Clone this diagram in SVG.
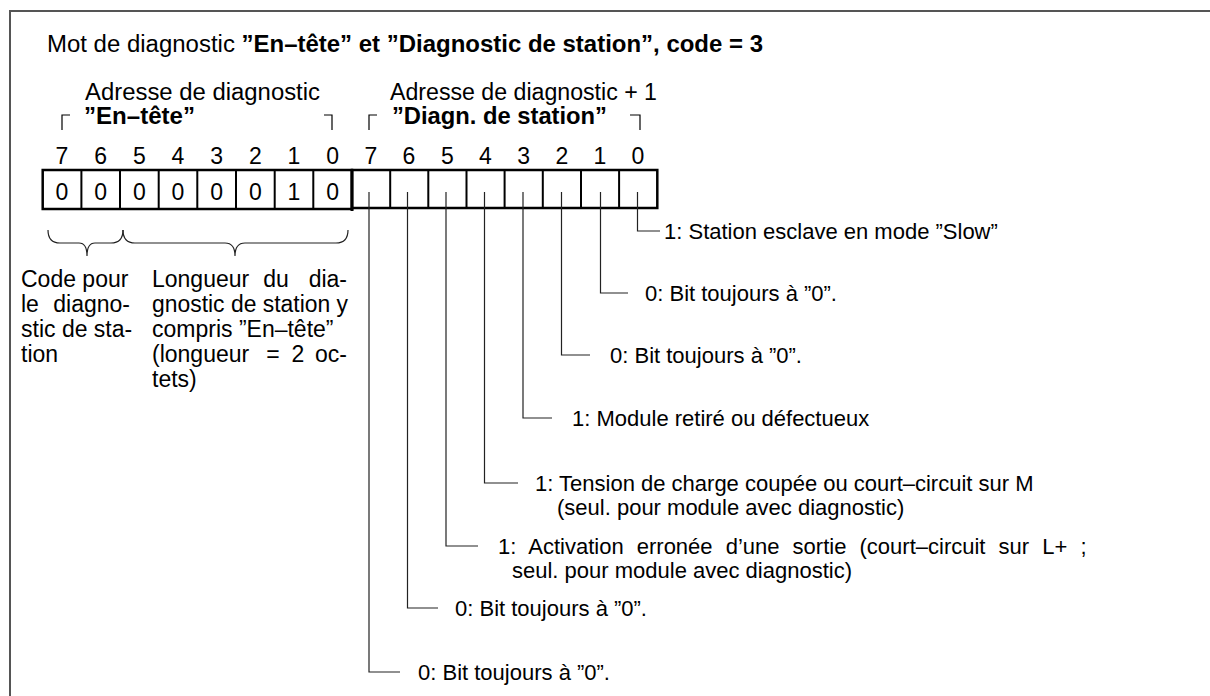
<svg xmlns="http://www.w3.org/2000/svg" width="1210" height="696" viewBox="0 0 1210 696">
<style>
text{font-family:"Liberation Sans",Arial,sans-serif;font-size:23px;fill:#000}
.b{font-weight:bold}
.m{text-anchor:middle}
.e{text-anchor:end}
.s{font-size:22px}
.frame{stroke:#555;stroke-width:2;fill:none}
.cell{stroke:#000;stroke-width:2.5;fill:#fff}
.div{stroke:#000;stroke-width:2}
.lead{stroke:#222;stroke-width:1.2;fill:none}
.brk{stroke:#000;stroke-width:1.2;fill:none}
</style>
<rect width="1210" height="696" fill="#fff"/>
<path class="frame" d="M10,696 V11 H1210"/>
<g id="title"><text x="47" y="52" textLength="716" lengthAdjust="spacingAndGlyphs">Mot de diagnostic <tspan class="b">”En–tête” et ”Diagnostic de station”, code = 3</tspan></text></g>
<g id="header1">
<text x="85" y="100" textLength="235" lengthAdjust="spacingAndGlyphs">Adresse de diagnostic</text>
<text x="84" y="124" class="b" textLength="111" lengthAdjust="spacingAndGlyphs">”En–tête”</text>
<path class="brk" d="M70,115 H62 V130 M324,115 H332 V130"/>
</g>
<g id="header2">
<text x="390" y="100" textLength="267" lengthAdjust="spacingAndGlyphs">Adresse de diagnostic + 1</text>
<text x="392" y="124" class="b" textLength="215" lengthAdjust="spacingAndGlyphs">”Diagn. de station”</text>
<path class="brk" d="M377,115 H369 V130 M630,115 H640 V130"/>
</g>
<g id="byte1">
<text class="m" x="62" y="164">7</text><text class="m" x="100.7" y="164">6</text><text class="m" x="139.3" y="164">5</text><text class="m" x="178" y="164">4</text><text class="m" x="216.7" y="164">3</text><text class="m" x="255.3" y="164">2</text><text class="m" x="294" y="164">1</text><text class="m" x="332.7" y="164">0</text>
<rect class="cell" x="42.7" y="170" width="309.3" height="39"/>
<path class="div" d="M81.4,170V209M120,170V209M158.7,170V209M197.3,170V209M236,170V209M274.7,170V209M313.3,170V209"/>
<text class="m" x="62" y="200">0</text><text class="m" x="100.7" y="200">0</text><text class="m" x="139.3" y="200">0</text><text class="m" x="178" y="200">0</text><text class="m" x="216.7" y="200">0</text><text class="m" x="255.3" y="200">0</text><text class="m" x="294" y="200">1</text><text class="m" x="332.7" y="200">0</text>
</g>
<g id="byte2">
<text class="m" x="371" y="164">7</text><text class="m" x="409" y="164">6</text><text class="m" x="447.5" y="164">5</text><text class="m" x="485.5" y="164">4</text><text class="m" x="523.7" y="164">3</text><text class="m" x="562" y="164">2</text><text class="m" x="600" y="164">1</text><text class="m" x="638" y="164">0</text>
<rect class="cell" x="352" y="170" width="305.3" height="38"/>
<path class="div" d="M390.2,170V208M428.3,170V208M466.5,170V208M504.6,170V208M542.8,170V208M581,170V208M619.1,170V208"/>
<path d="M352,169V211" stroke="#000" stroke-width="3"/>
</g>
<g id="braces">
<path class="lead" d="M48,230 Q48,243 60,243 L79,243 Q87,243 87,256 Q87,243 95,243 L111,243 Q123,243 123,230"/>
<path class="lead" d="M123,230 Q123,243 135,243 L225,243 Q235,243 235,256 Q235,243 245,243 L336,243 Q348,243 348,230"/>
</g>
<g id="code-text">
<text x="21" y="287">Code pour</text>
<text x="21" y="312">le</text><text x="130" y="312" class="e">diagno-</text>
<text x="21" y="337">stic de sta-</text>
<text x="21" y="362">tion</text>
</g>
<g id="length-text">
<text x="152" y="287">Longueur</text><text x="276" y="287" class="m">du</text><text x="347" y="287" class="e">dia-</text>
<text x="152" y="312" textLength="196" lengthAdjust="spacingAndGlyphs">gnostic de station y</text>
<text x="152" y="337">compris ”En–tête”</text>
<text x="152" y="362">(longueur</text><text x="273" y="362" class="m">=</text><text x="298" y="362" class="m">2</text><text x="347" y="362" class="e">oc-</text>
<text x="152" y="387">tets)</text>
</g>
<g id="connectors">
<path class="lead" d="M637.5,192V231H660"/>
<path class="lead" d="M600.5,192V293H628"/>
<path class="lead" d="M561.5,192V355H590"/>
<path class="lead" d="M523,192V418H552"/>
<path class="lead" d="M484.5,192V483H518"/>
<path class="lead" d="M446,192V546H478"/>
<path class="lead" d="M407.5,192V608H438"/>
<path class="lead" d="M369,192V672H400"/>
</g>
<g id="bit0"><text class="s" x="664" y="239">1: Station esclave en mode ”Slow”</text></g>
<g id="bit1"><text class="s" x="645" y="301">0: Bit toujours à ”0”.</text></g>
<g id="bit2"><text class="s" x="610" y="363">0: Bit toujours à ”0”.</text></g>
<g id="bit3"><text class="s" x="572" y="426">1: Module retiré ou défectueux</text></g>
<g id="bit4"><text class="s" x="535" y="491">1: Tension de charge coupée ou court–circuit sur M</text><text class="s" x="557" y="515">(seul. pour module avec diagnostic)</text></g>
<g id="bit5"><text class="s" x="498" y="554" word-spacing="7">1: Activation erronée d’une sortie (court–circuit sur L+ ;</text><text class="s" x="512" y="578">seul. pour module avec diagnostic)</text></g>
<g id="bit6"><text class="s" x="455" y="616">0: Bit toujours à ”0”.</text></g>
<g id="bit7"><text class="s" x="418" y="680">0: Bit toujours à ”0”.</text></g>
</svg>
